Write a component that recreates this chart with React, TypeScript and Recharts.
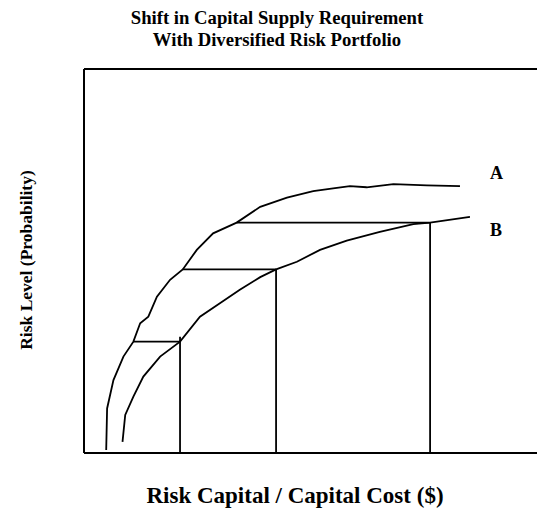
import { LineChart, Line, XAxis, YAxis, ReferenceLine } from "recharts";

// capital (x) and risk level (y) in plot units, 0..100 on both axes
const capitalA = [4.9, 5.1, 6.5, 8.7, 10.9, 12.4, 14.2, 16.1, 19.0, 21.8, 24.9, 28.5, 33.7, 38.9, 44.8, 50.6, 55.0, 58.7, 62.4, 68.3, 75.7, 83.0];
const riskA = [0.8, 11.6, 19.0, 25.1, 29.0, 33.8, 35.5, 40.7, 45.1, 47.8, 52.9, 57.2, 60.0, 64.1, 66.5, 68.2, 68.9, 69.5, 69.2, 70.0, 69.7, 69.5];

const capitalB = [8.5, 9.1, 10.9, 13.1, 16.8, 21.2, 25.6, 30.0, 34.4, 38.9, 42.4, 47.0, 52.1, 58.0, 65.3, 72.7, 76.4, 85.2];
const riskB = [2.9, 9.9, 14.7, 19.9, 25.1, 29.0, 35.5, 39.0, 42.5, 45.8, 47.8, 49.8, 52.9, 55.3, 57.6, 59.6, 60.0, 61.5];

// the three risk levels and where they meet curve A and curve B
const riskLevels = [29.0, 47.8, 60.0];
const capitalOnA = [10.9, 21.8, 33.7];
const capitalOnB = [21.2, 42.4, 76.4];
const dropTops = [30.3, 47.8, 60.0];

const curveA = capitalA.map((c, i) => ({ capital: c, risk: riskA[i] }));
const curveB = capitalB.map((c, i) => ({ capital: c, risk: riskB[i] }));

const steps = riskLevels.map((r, i) => ({
  across: [
    { capital: capitalOnA[i], risk: r },
    { capital: capitalOnB[i], risk: r }
  ],
  down: [
    { capital: capitalOnB[i], risk: dropTops[i] },
    { capital: capitalOnB[i], risk: 0 }
  ]
}));

const font = "'Liberation Serif', 'Times New Roman', serif";
const ink = "#000";

export default function App() {
  return (
    <div
      style={{
        position: "absolute",
        left: 0,
        top: 0,
        width: 537,
        height: 510,
        overflow: "hidden",
        background: "#fff"
      }}
    >
      <LineChart
        width={537}
        height={510}
        margin={{ top: 69, right: 0, left: 84, bottom: 57 }}
      >
        <XAxis type="number" dataKey="capital" domain={[0, 100]} hide />
        <YAxis type="number" dataKey="risk" domain={[0, 100]} hide />
        <ReferenceLine y={100} stroke={ink} strokeWidth={2} />
        <ReferenceLine y={0} stroke={ink} strokeWidth={2} />
        <ReferenceLine x={0} stroke={ink} strokeWidth={2} />
        <Line
          data={curveA}
          dataKey="risk"
          type="linear"
          stroke={ink}
          strokeWidth={1.8}
          dot={false}
          isAnimationActive={false}
        />
        <Line
          data={curveB}
          dataKey="risk"
          type="linear"
          stroke={ink}
          strokeWidth={1.8}
          dot={false}
          isAnimationActive={false}
        />
        {steps.map((s, i) => (
          <Line
            key={"h" + i}
            data={s.across}
            dataKey="risk"
            stroke={ink}
            strokeWidth={1.8}
            dot={false}
            isAnimationActive={false}
          />
        ))}
        {steps.map((s, i) => (
          <Line
            key={"v" + i}
            data={s.down}
            dataKey="risk"
            stroke={ink}
            strokeWidth={1.8}
            dot={false}
            isAnimationActive={false}
          />
        ))}
      </LineChart>
      <svg
        width={537}
        height={510}
        style={{ position: "absolute", left: 0, top: 0, pointerEvents: "none" }}
        fontFamily={font}
        fontWeight="bold"
        fill={ink}
      >
        <text x={277} y={24} textAnchor="middle" fontSize={18.7}>
          Shift in Capital Supply Requirement
        </text>
        <text x={277} y={46} textAnchor="middle" fontSize={18.7}>
          With Diversified Risk Portfolio
        </text>
        <text x={490} y={179} fontSize={18}>A</text>
        <text x={490} y={236} fontSize={18}>B</text>
        <text x={295} y={503} textAnchor="middle" fontSize={23}>
          Risk Capital / Capital Cost ($)
        </text>
        <text x={32} y={260} textAnchor="middle" fontSize={17.5} transform="rotate(-90 32 260)">
          Risk Level (Probability)
        </text>
      </svg>
    </div>
  );
}
